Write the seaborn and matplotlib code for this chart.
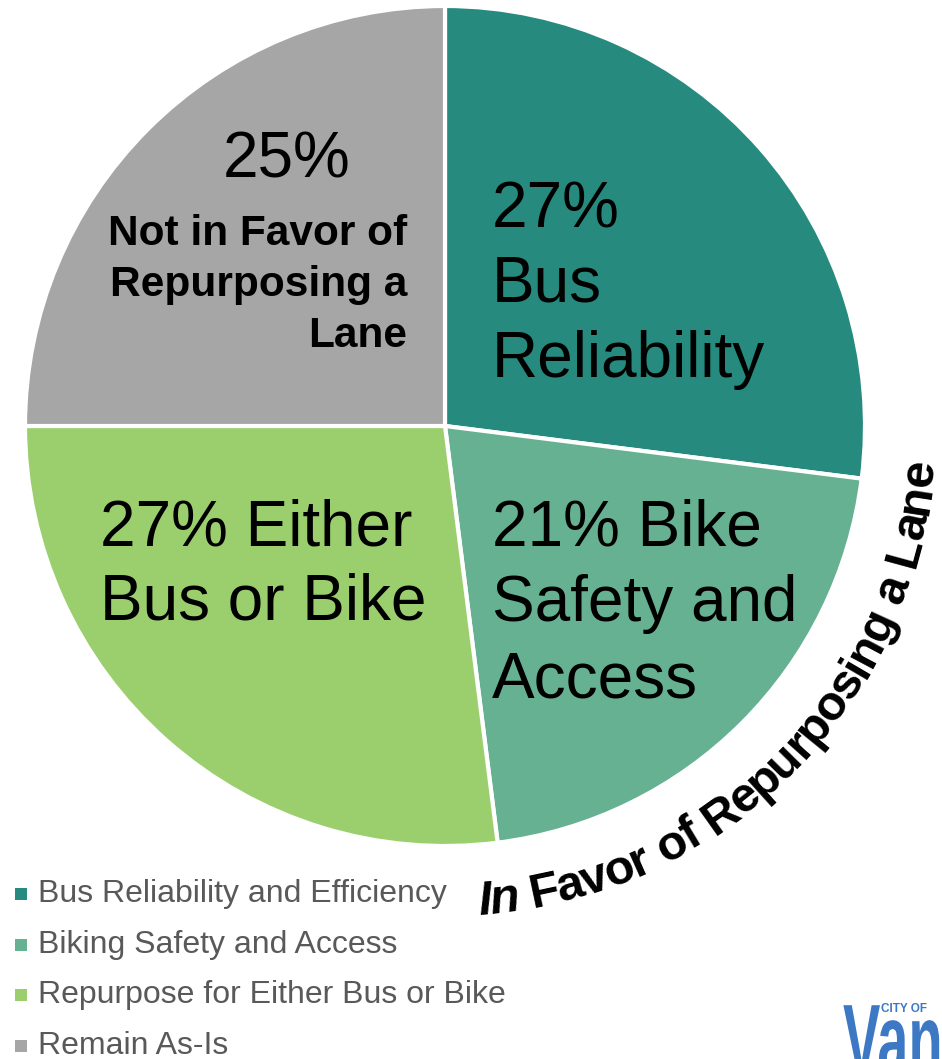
import numpy as np
import matplotlib
matplotlib.use("Agg")
import matplotlib.pyplot as plt
import seaborn as sns
from matplotlib.font_manager import FontProperties
from matplotlib.textpath import TextToPath, TextPath
from matplotlib.patches import PathPatch
from matplotlib.transforms import Affine2D

# data
categories = ["Bus Reliability and Efficiency", "Biking Safety and Access",
              "Repurpose for Either Bus or Bike", "Remain As-Is"]
shares = [27, 21, 27, 25]
colors = ["#268A7E", "#66B192", "#9BCF6E", "#A6A6A6"]
slice_text = [["27%", "Bus", "Reliability"],
              ["21% Bike", "Safety and", "Access"],
              ["27% Either", "Bus or Bike"],
              ["25%"]]
remain_note = ["Not in Favor of", "Repurposing a", "Lane"]
arc_title = "In Favor of Repurposing a Lane"

sns.set_theme(style="white")
plt.rcParams['font.family'] = ['Liberation Sans', 'DejaVu Sans']

W, H = 942, 1059
fig = plt.figure(figsize=(W / 100, H / 100), dpi=100)
ax = fig.add_axes([0, 0, 1, 1])

cx, cy, R = 445, H - 426, 420
ax.pie(shares, colors=sns.color_palette(colors), startangle=90, counterclock=False,
       center=(cx, cy), radius=R, frame=True,
       wedgeprops=dict(edgecolor="white", linewidth=3))
ax.set_xlim(0, W)
ax.set_ylim(0, H)
ax.set_aspect("equal")
ax.axis("off")

# slice labels, one text per line (x, first baseline, line step)
anchors = [(492, 227, 75), (492, 545, 76), (100, 545, 75), (287, 178, 0)]
for lines, (x0, y0, step) in zip(slice_text, anchors):
    ha = "center" if len(lines) == 1 else "left"
    for j, ln in enumerate(lines):
        ax.text(x0, H - (y0 + j * step), ln, fontsize=46, ha=ha, va="baseline", color="black")

for j, ln in enumerate(remain_note):
    ax.text(407, H - (245 + j * 51), ln, fontsize=30.5, fontweight="bold",
            ha="right", va="baseline", color="black")

# curved caption along the outside of the pie
rb = 490
fs = 35
track = 0.96
t2p = TextToPath()
px = 100 / 72.0


def width(s, prop):
    w, h, d = t2p.get_text_width_height_descent(s, prop, ismath=False)
    return w * px


p_it = FontProperties(family="Liberation Sans", weight="bold", style="italic", size=fs)
p_b = FontProperties(family="Liberation Sans", weight="bold", size=fs)
start = np.deg2rad(-86)
s_pos = 0.0
for i, ch in enumerate(arc_title):
    prop = p_it if i < 2 else p_b
    cw = width(ch, prop) if ch != " " else width("a a", prop) - 2 * width("a", prop)
    cw *= track
    theta = start + (s_pos + cw / 2) / rb
    x = cx + rb * np.cos(theta)
    y = cy + rb * np.sin(theta)
    if ch != " ":
        ax.text(x, y, ch, fontproperties=prop, ha="center", va="baseline",
                rotation=np.rad2deg(theta) + 90, rotation_mode="anchor", color="black")
    s_pos += cw

# legend
for i, (lab, c) in enumerate(zip(categories, colors)):
    yy = H - (894 + 50.5 * i)
    ax.scatter([21], [yy], marker="s", s=85, color=c, linewidths=0)
    ax.text(38, yy, lab, fontsize=23, color="#595959", ha="left", va="center")

# logo fragment (condensed bold wordmark, cut by the edge)
logo = "#3C78C3"
tp = TextPath((0, 0), "Vanc", size=100,
              prop=FontProperties(family="Liberation Sans", weight="bold"))
tp = Affine2D().scale(0.56, 1.0).translate(843, H - 1002 - 72).transform_path(tp)
ax.add_patch(PathPatch(tp, facecolor=logo, edgecolor="none"))
ax.text(881, H - 1012, "CITY OF", fontsize=8.5, fontweight="bold", color=logo,
        ha="left", va="baseline")

fig.savefig("out.png", dpi=100)
